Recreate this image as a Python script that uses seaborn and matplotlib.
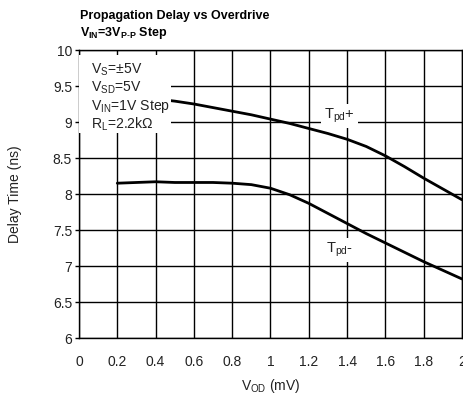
import matplotlib
matplotlib.use("Agg")
import matplotlib.pyplot as plt
import seaborn as sns
import pandas as pd
from matplotlib.patches import Rectangle

# ---- Data ----
vod = [0.2, 0.3, 0.4, 0.5, 0.6, 0.7, 0.8, 0.9, 1.0, 1.1,
       1.2, 1.3, 1.4, 1.5, 1.6, 1.7, 1.8, 1.9, 2.0]
tpd_plus = [9.40, 9.36, 9.32, 9.29, 9.25, 9.20, 9.15, 9.10, 9.04, 8.98,
            8.91, 8.84, 8.76, 8.66, 8.53, 8.38, 8.22, 8.07, 7.92]
tpd_minus = [8.15, 8.16, 8.17, 8.16, 8.16, 8.16, 8.15, 8.13, 8.08, 7.99,
             7.87, 7.73, 7.59, 7.45, 7.32, 7.19, 7.06, 6.94, 6.82]
series_names = ["Tpd+", "Tpd-"]

x_ticks = [0, 0.2, 0.4, 0.6, 0.8, 1, 1.2, 1.4, 1.6, 1.8, 2]
x_tick_labels = ["0", "0.2", "0.4", "0.6", "0.8", "1", "1.2", "1.4", "1.6", "1.8", "2"]
y_ticks = [6, 6.5, 7, 7.5, 8, 8.5, 9, 9.5, 10]
y_tick_labels = ["6", "6.5", "7", "7.5", "8", "8.5", "9", "9.5", "10"]

conditions = [r"$\mathregular{V_{S}}$=±5V",
              r"$\mathregular{V_{SD}}$=5V",
              r"$\mathregular{V_{IN}}$=1V Step",
              r"$\mathregular{R_{L}}$=2.2kΩ"]

df = pd.DataFrame({
    "vod": vod * 2,
    "delay": tpd_plus + tpd_minus,
    "series": [series_names[0]] * len(vod) + [series_names[1]] * len(vod),
})

# ---- Style ----
sns.set_theme(style="white")
plt.rcParams["font.family"] = ["Liberation Sans", "DejaVu Sans"]
plt.rcParams["mathtext.fontset"] = "custom"
plt.rcParams["mathtext.rm"] = "Liberation Sans"
plt.rcParams["mathtext.bf"] = "Liberation Sans:bold"
TXT = "#222222"

fig = plt.figure(figsize=(4.64, 4.0), dpi=100)
ax = fig.add_axes([79 / 464, 1 - 338 / 400, 383 / 464, 288 / 400])

sns.lineplot(data=df, x="vod", y="delay", hue="series",
             palette=["black", "black"], linewidth=2.0,
             legend=False, ax=ax, zorder=3)

ax.set_xlim(0, 2)
ax.set_ylim(6, 10)
ax.set_xticks(x_ticks)
ax.set_xticklabels(x_tick_labels)
ax.set_yticks(y_ticks)
ax.set_yticklabels(y_tick_labels)
ax.grid(True, color="black", linewidth=1.0)
ax.set_axisbelow(True)
for s in ax.spines.values():
    s.set_color("black")
    s.set_linewidth(1.0)
ax.tick_params(axis="y", left=True, length=3, width=1, color="black",
               labelsize=10, labelcolor=TXT, pad=2)
ax.tick_params(axis="x", bottom=False, labelsize=10, labelcolor=TXT, pad=6)

ax.set_xlabel(r"$\mathregular{V_{OD}}$ (mV)", fontsize=10, color=TXT, labelpad=6)
ax.set_ylabel("Delay Time (ns)", fontsize=10, color=TXT, labelpad=22)

# white box behind the test conditions
ax.add_patch(Rectangle((0, 0.712), 0.24, 0.271, transform=ax.transAxes,
                       facecolor="white", edgecolor="none", zorder=5))
for i, line in enumerate(conditions):
    ax.text(0.032, 0.93 - i * 0.0625, line, transform=ax.transAxes,
            fontsize=10.1, color=TXT, va="center", ha="left", zorder=6)

# curve labels
box = dict(facecolor="white", edgecolor="none", pad=2)
ax.text(1.36, 9.08, r"$\mathregular{T_{pd}}$+", fontsize=10.5, color=TXT,
        ha="center", va="center", bbox=box, zorder=6)
ax.text(1.36, 7.22, r"$\mathregular{T_{pd}}$-", fontsize=10.5, color=TXT,
        ha="center", va="center", bbox=box, zorder=6)

# title
fig.text(80 / 464, 1 - 19 / 400, "Propagation Delay vs Overdrive",
         fontsize=9, fontweight="bold", color="black", va="baseline")
fig.text(80 / 464, 1 - 36 / 400,
         r"$\mathbf{V_{IN}}$=3$\mathbf{V_{P\text{-}P}}$ Step",
         fontsize=9, fontweight="bold", color="black", va="baseline")

fig.savefig("out.png", dpi=100)
